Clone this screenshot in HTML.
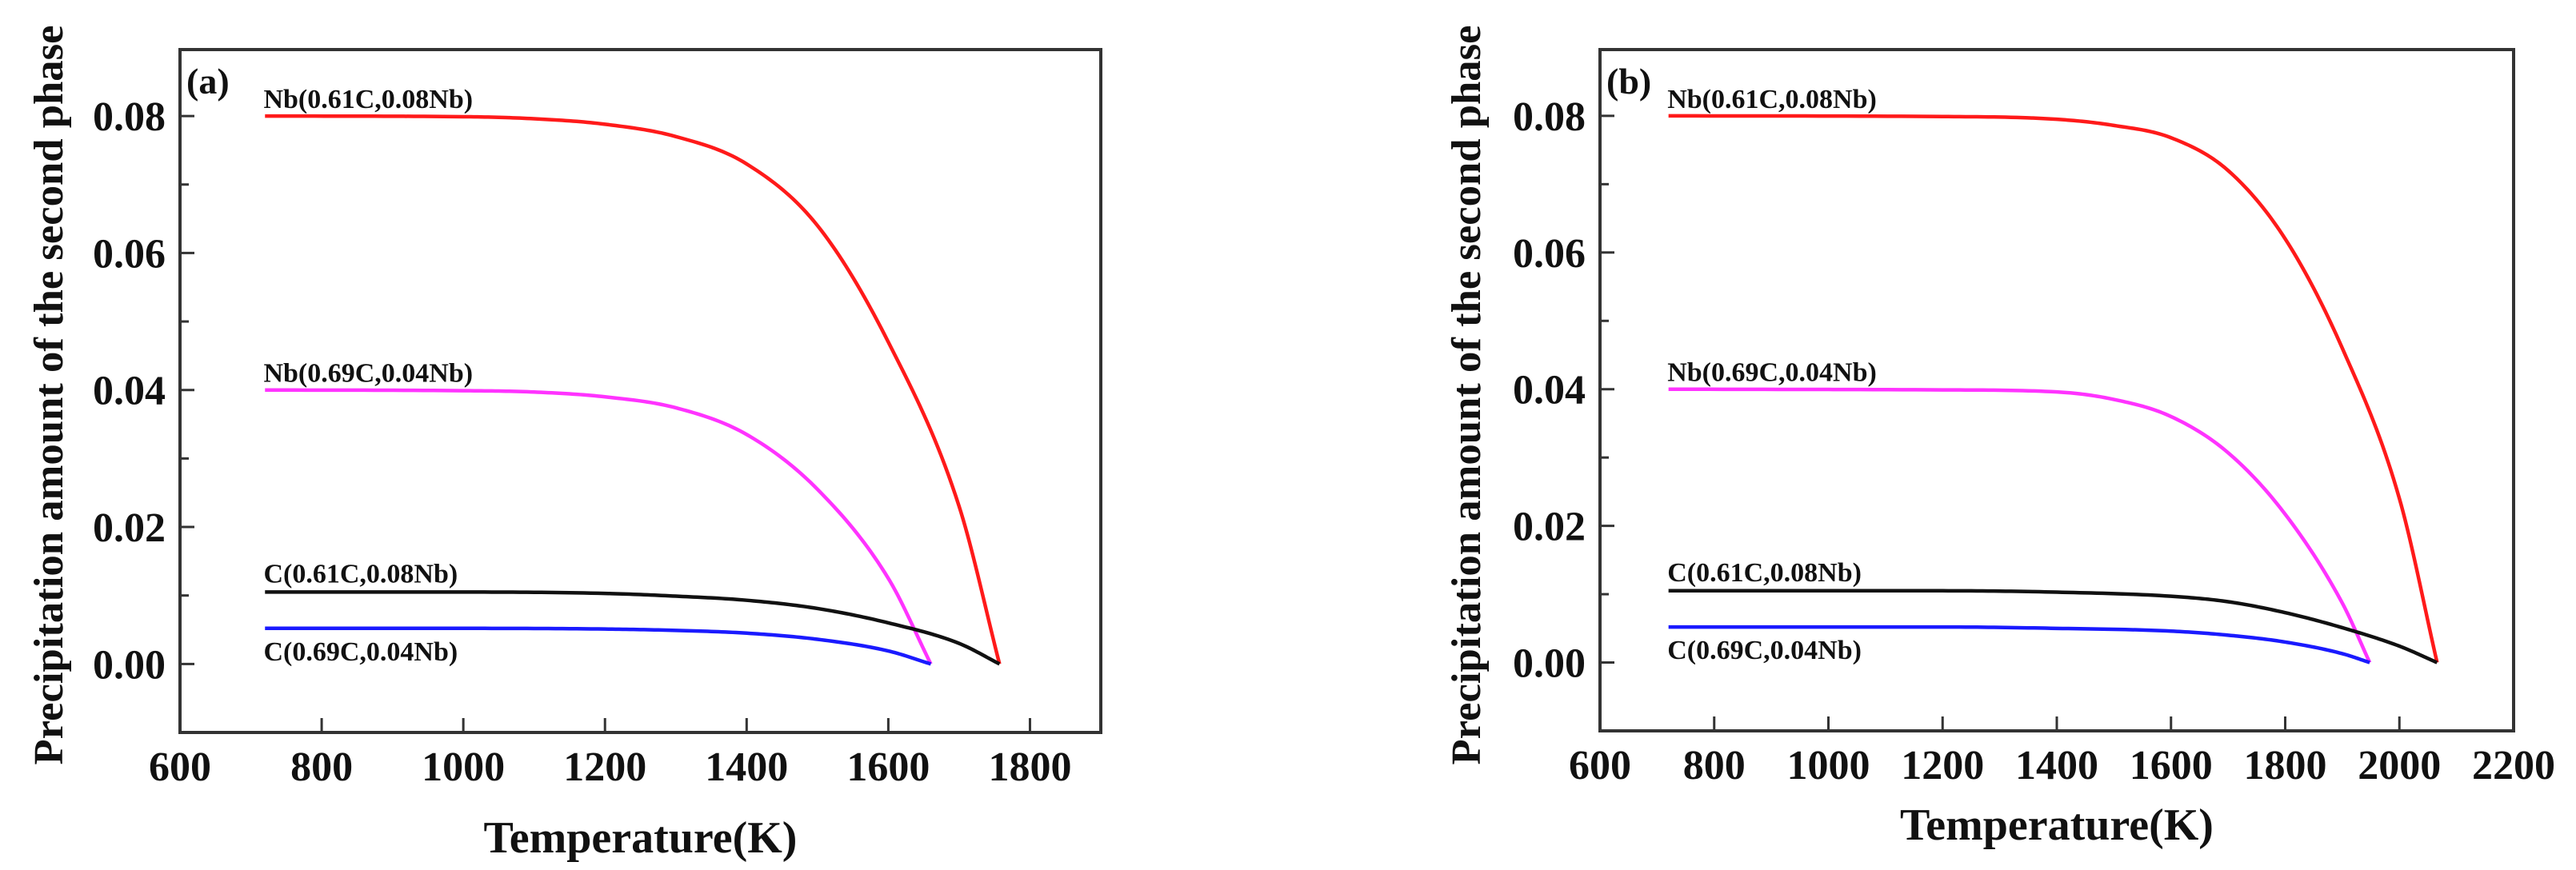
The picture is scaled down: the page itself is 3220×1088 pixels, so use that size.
<!DOCTYPE html>
<html><head><meta charset="utf-8">
<style>
html,body{margin:0;padding:0;background:#fff;}
svg{display:block;font-family:"Liberation Serif",serif;font-weight:bold;}
</style></head>
<body>
<svg id="chart" width="3220" height="1088" viewBox="0 0 3220 1088" xmlns="http://www.w3.org/2000/svg"></svg>
<script>
// ---- data ----
const yTicks = [0, 0.02, 0.04, 0.06, 0.08];
const yTickLabels = ["0.00","0.02","0.04","0.06","0.08"];
const xTicksA = [600, 800, 1000, 1200, 1400, 1600, 1800];
const xTicksB = [600, 800, 1000, 1200, 1400, 1600, 1800, 2000, 2200];
const seriesNames = ["Nb(0.61C,0.08Nb)","Nb(0.69C,0.04Nb)","C(0.61C,0.08Nb)","C(0.69C,0.04Nb)"];
const seriesColors = ["#ff1a1a","#ff33ff","#111111","#1a1aff"];
// panel (a)
const aRedT = [720,1000,1100,1200,1300,1400,1500,1600,1700,1757];
const aRedV = [0.080,0.0799,0.0796,0.0788,0.0770,0.0730,0.0640,0.0470,0.0230,0];
const aMagT = [720,1000,1100,1200,1300,1400,1500,1600,1660];
const aMagV = [0.040,0.0399,0.0397,0.0390,0.0374,0.0335,0.0255,0.0125,0];
const aBlkT = [720,1000,1200,1300,1400,1500,1600,1700,1757];
const aBlkV = [0.0105,0.0105,0.0103,0.0099,0.0093,0.0081,0.0060,0.0030,0];
const aBluT = [720,1000,1200,1300,1400,1500,1600,1660];
const aBluV = [0.0052,0.0052,0.0051,0.0049,0.0045,0.0036,0.0019,0];
// panel (b)
const bRedT = [720,1200,1400,1500,1600,1700,1800,1900,2000,2066];
const bRedV = [0.080,0.0799,0.0795,0.0786,0.0768,0.0720,0.0620,0.0460,0.0240,0];
const bMagT = [720,1200,1400,1500,1600,1700,1800,1900,1948];
const bMagV = [0.040,0.0399,0.0396,0.0385,0.0360,0.0307,0.0217,0.0087,0];
const bBlkT = [720,1200,1400,1600,1700,1800,1900,2000,2066];
const bBlkV = [0.0105,0.0105,0.0103,0.0097,0.0089,0.0073,0.0051,0.0024,0];
const bBluT = [720,1200,1400,1600,1700,1800,1900,1948];
const bBluV = [0.0052,0.0052,0.0050,0.0046,0.0040,0.0030,0.0013,0];

const NS = "http://www.w3.org/2000/svg";
const svg = document.getElementById("chart");
function mk(tag, attrs, parent, text){
  const e = document.createElementNS(NS, tag);
  for (const k in attrs) e.setAttribute(k, attrs[k]);
  if (text !== undefined) e.textContent = text;
  (parent||svg).appendChild(e);
  return e;
}
function monotone(xs, ys){
  const n=xs.length, d=[], m=new Array(n);
  for(let i=0;i<n-1;i++) d.push((ys[i+1]-ys[i])/(xs[i+1]-xs[i]));
  m[0]=d[0]; m[n-1]=d[n-2];
  for(let i=1;i<n-1;i++){ m[i]=(d[i-1]*d[i]<=0)?0:(d[i-1]+d[i])/2; }
  for(let i=0;i<n-1;i++){
    if(d[i]===0){m[i]=0;m[i+1]=0;continue;}
    const a=m[i]/d[i], b=m[i+1]/d[i], s=a*a+b*b;
    if(s>9){const t=3/Math.sqrt(s); m[i]=t*a*d[i]; m[i+1]=t*b*d[i];}
  }
  const out=[];
  for(let i=0;i<n-1;i++){
    const h=xs[i+1]-xs[i];
    for(let k=0;k<20;k++){
      const t=k/20, t2=t*t, t3=t2*t;
      const y=(2*t3-3*t2+1)*ys[i]+(t3-2*t2+t)*h*m[i]+(-2*t3+3*t2)*ys[i+1]+(t3-t2)*h*m[i+1];
      out.push([xs[i]+t*h,y]);
    }
  }
  out.push([xs[n-1],ys[n-1]]);
  return out;
}
function panel(cfg){
  const g = mk("g", {});
  
  
  const {L,R,T,B,xmin,xmax,ymin,ymax} = cfg;
  const sx = v => L + (v-xmin)/(xmax-xmin)*(R-L);
  const sy = v => B - (v-ymin)/(ymax-ymin)*(B-T);
  const series = cfg.series;
  series.forEach((s,i)=>{
    const pts = monotone(s.t, s.v).map(p=>sx(p[0]).toFixed(2)+","+sy(p[1]).toFixed(2));
    const p = mk("polyline", {points:pts.join(" "), fill:"none", stroke:seriesColors[i], "stroke-width":4.5, "stroke-linejoin":"round"}, g);
    
    
  });
  const lx = sx(718);
  const labelY = [sy(series[0].v[0])-10, sy(series[1].v[0])-10, sy(series[2].v[0])-12, sy(series[3].v[0])+40];
  series.forEach((s,i)=>{
    const t = mk("text", {x:lx, y:labelY[i], "font-size":34, fill:"#111"}, g, seriesNames[i]);
    
    
  });
  const fr = mk("rect", {x:L, y:T, width:R-L, height:B-T, fill:"none", stroke:"#333", "stroke-width":4}, g);
  
  
  for (let v=-0.01; v<=0.0901; v+=0.01){
    const major = yTicks.some(t=>Math.abs(t-v)<1e-6);
    const y = sy(v);
    if (y<T+2||y>B-2) continue;
    const tk = mk("line", {x1:L, x2:L+(major?18:11), y1:y, y2:y, stroke:"#333", "stroke-width":3}, g);
    
    
  }
  yTicks.forEach((v,i)=>{
    const t = mk("text", {x:L-18, y:sy(v)+18, "font-size":52, "text-anchor":"end", fill:"#111"}, g, yTickLabels[i]);
    
    
  });
  cfg.xt.forEach(v=>{
    const x = sx(v);
    if (x>L+2 && x<R-2){
      const tk = mk("line", {x1:x, x2:x, y1:B, y2:B-18, stroke:"#333", "stroke-width":3}, g);
      
      
    }
    const t = mk("text", {x:x, y:B+60, "font-size":52, "text-anchor":"middle", fill:"#111"}, g, String(v));
    
    
  });
  const xt = mk("text", {x:(L+R)/2, y:cfg.xtitleY, "font-size":56, "text-anchor":"middle", fill:"#111"}, g, "Temperature(K)");
  
  
  const yt = mk("text", {x:0, y:0, "font-size":52, "text-anchor":"middle", fill:"#111",
    textLength:925, lengthAdjust:"spacingAndGlyphs",
    transform:"translate("+cfg.ytitleX+",494) rotate(-90)"}, g, "Precipitation amount of the second phase");
  
  
  const pl = mk("text", {x:L+8, y:T+55, "font-size":46, fill:"#111"}, g, cfg.letter);
  
  
}
panel({name:"panel-a", letter:"(a)", L:225, R:1376, T:62, B:916, xmin:600, xmax:1900, ymin:-0.01, ymax:0.0897, xt:xTicksA,
  xtitleY:1066, ytitleX:78,
  series:[{t:aRedT,v:aRedV},{t:aMagT,v:aMagV},{t:aBlkT,v:aBlkV},{t:aBluT,v:aBluV}]});
panel({name:"panel-b", letter:"(b)", L:2000, R:3142, T:62, B:914, xmin:600, xmax:2200, ymin:-0.01, ymax:0.0897, xt:xTicksB,
  xtitleY:1050, ytitleX:1850,
  series:[{t:bRedT,v:bRedV},{t:bMagT,v:bMagV},{t:bBlkT,v:bBlkV},{t:bBluT,v:bBluV}]});
</script>
</body></html>
